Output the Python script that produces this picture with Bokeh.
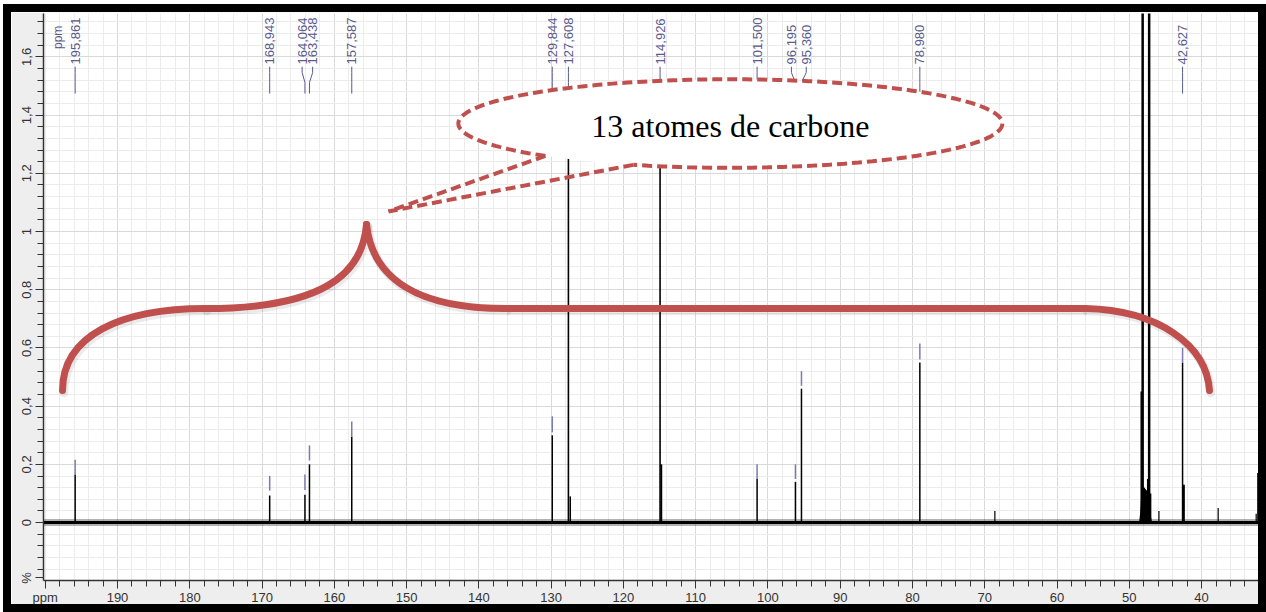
import math
from bokeh.plotting import figure
from bokeh.models import Range1d, FixedTicker, CustomJSTickFormatter
from bokeh.embed import file_html
from bokeh.resources import INLINE
from bokeh.core.properties import value

# ---------------- data ----------------
# spectrum lines: chemical shift (ppm) and intensity (%)
peak_ppm = [195.861, 168.943, 164.064, 163.438, 157.587, 129.844, 127.608, 127.35,
            114.926, 114.75, 101.500, 96.195, 95.360, 78.980, 68.6,
            48.35, 48.15, 47.95, 47.45, 47.25, 47.05, 45.9,
            42.627, 42.45, 37.7, 32.44, 32.2]
peak_height = [0.165, 0.093, 0.096, 0.200, 0.295, 0.300, 1.350, 0.090,
               1.350, 0.200, 0.150, 0.140, 0.460, 0.550, 0.040,
               0.450, 2.000, 0.120, 0.150, 2.000, 0.100, 0.040,
               0.550, 0.130, 0.050, 0.030, 0.170]
peak_lw = [1.5, 1.5, 1.5, 1.5, 1.5, 1.5, 1.6, 1.5,
           1.6, 1.8, 1.5, 1.5, 1.5, 1.5, 1.2,
           1.5, 2.5, 1.5, 1.5, 2.5, 1.5, 1.2,
           1.5, 2.0, 1.2, 1.2, 1.5]

# baseline (noise band) and solvent foot
baseline_ppm = [200.24, 32.12]
baseline_level = [0.0, 0.0]
solvent_ppm = [48.65, 48.5, 48.4, 48.3, 47.2, 47.1, 47.0, 46.85]
solvent_h = [0.0, 0.03, 0.07, 0.13, 0.10, 0.05, 0.02, 0.0]

# peak picking labels
label_text = ["195,861", "168,943", "164,064", "163,438", "157,587", "129,844", "127,608",
              "114,926", "101,500", "96,195", "95,360", "78,980", "42,627"]
label_peak = [195.861, 168.943, 164.064, 163.438, 157.587, 129.844, 127.608,
              114.926, 101.500, 96.195, 95.360, 78.980, 42.627]
label_pos = [195.861, 168.943, 164.45, 163.0, 157.587, 129.844, 127.608,
             114.926, 101.500, 96.75, 94.7, 78.980, 42.627]
marker_lo = [0.165, 0.110, 0.112, 0.213, 0.295, 0.310, 1.36, 1.36, 0.150, 0.150, 0.470, 0.560, 0.550]
marker_hi = [0.216, 0.160, 0.165, 0.265, 0.347, 0.365, 1.41, 1.41, 0.200, 0.200, 0.520, 0.615, 0.600]

# axis ticks (200 carries the "ppm" unit, -0.19 carries the "%" unit)
x_major = [200, 190, 180, 170, 160, 150, 140, 130, 120, 110, 100, 90, 80, 70, 60, 50, 40]
x_minor = list(range(34, 201, 2))
y_major = [-0.19, 0, 0.2, 0.4, 0.6, 0.8, 1.0, 1.2, 1.4, 1.6]
y_minor = [round(-0.16 + 0.04 * i, 2) for i in range(48)]

callout_text = "13 atomes de carbone"

# ---------------- figure ----------------
p = figure(width=1263, height=608,
           x_range=Range1d(200.24, 32.12), y_range=Range1d(-0.199, 1.749),
           output_backend="svg", toolbar_location=None,
           min_border_left=32, min_border_right=16, min_border_top=1, min_border_bottom=40,
           border_fill_color="#eeeeee", background_fill_color="white",
           outline_line_color=None,
           styles={"border": "8px solid black", "margin-left": "3px", "margin-top": "4px",
                   "box-sizing": "border-box"})

p.xaxis.ticker = FixedTicker(ticks=x_major, minor_ticks=x_minor)
p.yaxis.ticker = FixedTicker(ticks=y_major, minor_ticks=y_minor)
p.xgrid.ticker = FixedTicker(ticks=x_major[1:], minor_ticks=x_minor)
p.ygrid.ticker = FixedTicker(ticks=y_major[1:], minor_ticks=y_minor)
p.xaxis.major_label_overrides = {200: "ppm"}
p.yaxis.formatter = CustomJSTickFormatter(
    code="if (tick < -0.1) { return '%'; } "
         "var s = (Math.round(tick*10)/10).toString(); return s.replace('.', ',');")
p.yaxis.major_label_orientation = "vertical"

for ax in (p.xaxis[0], p.yaxis[0]):
    ax.axis_line_color = "#333333"
    ax.axis_line_width = 1.5
    ax.major_tick_line_color = "#333333"
    ax.minor_tick_line_color = "#333333"
    ax.major_tick_in = 0
    ax.minor_tick_in = 0
    ax.major_tick_out = 8
    ax.minor_tick_out = 6
    ax.major_label_text_font = "Liberation Sans"
    ax.major_label_text_font_size = "13px"
    ax.major_label_text_color = "#333333"
    ax.major_label_standoff = 1

for g in (p.xgrid[0], p.ygrid[0]):
    g.grid_line_color = "#d9d9d9"
    g.grid_line_width = 1
    g.minor_grid_line_color = "#ececec"
    g.minor_grid_line_width = 1

# ---------------- spectrum ----------------
p.line(baseline_ppm, baseline_level, line_color="black", line_width=7, line_alpha=0.3)
p.line(baseline_ppm, baseline_level, line_color="black", line_width=3)
p.varea(x=solvent_ppm, y1=[0.0] * len(solvent_ppm), y2=solvent_h, fill_color="black")
p.segment(x0=peak_ppm, y0=[0.0] * len(peak_ppm), x1=peak_ppm, y1=peak_height,
          line_color="black", line_width=peak_lw)

# peak markers and labels
LABEL_COL = "#5a5a8c"
p.segment(x0=label_peak, y0=marker_lo, x1=label_peak, y1=marker_hi,
          line_color="#7a7ab2", line_width=1.5)
xs, ys = [], []
for lp, pk in zip(label_pos, label_peak):
    xs.append([lp, lp, pk, pk])
    ys.append([1.566, 1.546, 1.512, 1.474])
p.multi_line(xs, ys, line_color=LABEL_COL, line_width=1)
p.text(x=label_pos, y=[1.574] * len(label_pos), text=label_text, angle=math.pi / 2,
       text_align="left", text_baseline="middle", text_color=LABEL_COL,
       text_font=value("Liberation Sans"), text_font_size="13px")
p.text(x=[198.3], y=[1.667], text=["ppm"], angle=math.pi / 2,
       text_align="center", text_baseline="middle", text_color=LABEL_COL,
       text_font=value("Liberation Sans"), text_font_size="12px")

# ---------------- callout bubble ----------------
RED = "#c0504d"
cx, cy, ea, eb = 105.2, 1.371, 37.64, 0.152
n = 200
fx = [cx + ea * math.cos(2 * math.pi * i / n) for i in range(n)]
fy = [cy + eb * math.sin(2 * math.pi * i / n) for i in range(n)]
p.patch(fx, fy, fill_color="white", line_color=None)
t1, t2 = -0.823, -1.206 + 2 * math.pi
ox = [cx + ea * math.cos(t1 + (t2 - t1) * i / n) for i in range(n + 1)]
oy = [cy + eb * math.sin(t1 + (t2 - t1) * i / n) for i in range(n + 1)]
p.line(ox, oy, line_color=RED, line_width=4, line_dash="10 5")
tip = (152.5, 1.069)
p.line([ox[0], tip[0]], [oy[0], tip[1]], line_color=RED, line_width=4, line_dash="10 5")
p.line([ox[-1], tip[0]], [oy[-1], tip[1]], line_color=RED, line_width=4, line_dash="10 5")
p.text(x=[cx], y=[1.364], text=[callout_text], text_align="center", text_baseline="middle",
       text_color="black", text_font=value("Liberation Serif"), text_font_size="32px")

# ---------------- curly brace ----------------
bx0 = [197.61, 177.82, 155.55, 56.06]
by0 = [0.4536, 0.7354, 1.0241, 0.7354]
bx1 = [177.82, 155.55, 136.31, 38.90]
by1 = [0.7354, 1.0241, 0.7354, 0.4536]
bcx0 = [197.61, 161.91, 154.72, 46.0]
bcy0 = [0.6426, 0.7354, 0.8316, 0.7300]
bcx1 = [189.58, 156.10, 148.07, 39.3]
bcy1 = [0.7354, 0.8488, 0.7354, 0.6100]
sh_dx, sh_dy = -0.2, -0.008
p.bezier(x0=[v + sh_dx for v in bx0], y0=[v + sh_dy for v in by0],
         x1=[v + sh_dx for v in bx1], y1=[v + sh_dy for v in by1],
         cx0=[v + sh_dx for v in bcx0], cy0=[v + sh_dy for v in bcy0],
         cx1=[v + sh_dx for v in bcx1], cy1=[v + sh_dy for v in bcy1],
         line_color="black", line_alpha=0.08, line_width=9, line_cap="round")
p.line([136.31 + sh_dx, 56.06 + sh_dx], [0.7354 + sh_dy, 0.7354 + sh_dy],
       line_color="black", line_alpha=0.08, line_width=9)
p.bezier(x0=bx0, y0=by0, x1=bx1, y1=by1, cx0=bcx0, cy0=bcy0, cx1=bcx1, cy1=bcy1,
         line_color=RED, line_width=7, line_cap="round")
p.line([136.31, 56.06], [0.7354, 0.7354], line_color=RED, line_width=7, line_cap="round")

open("out.html", "w").write(file_html(p, INLINE))
